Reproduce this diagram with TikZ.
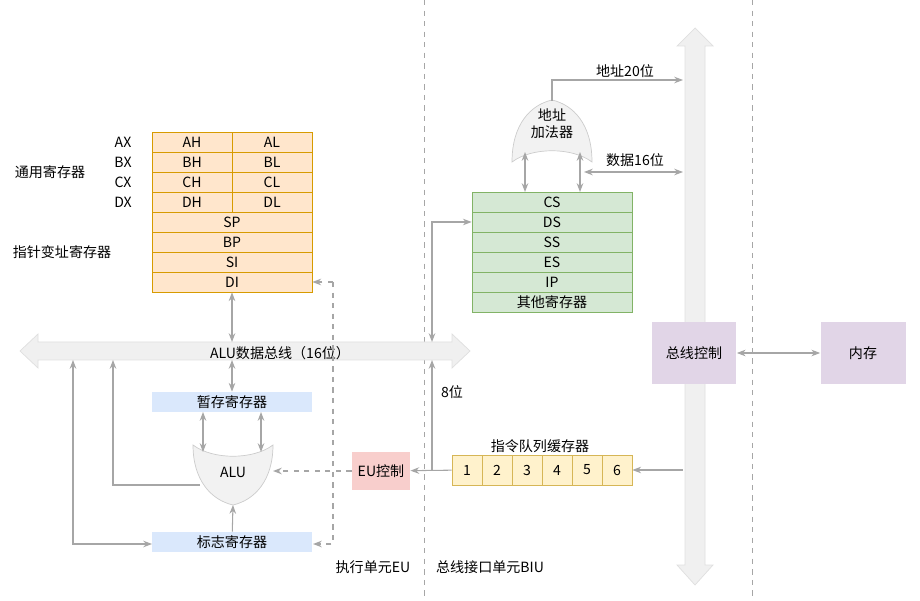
\documentclass[tikz,border=0pt]{standalone}
\usepackage{fontspec}
\setmainfont{Noto Sans CJK SC}
\usetikzlibrary{arrows.meta}

\definecolor{regfill}{HTML}{FFE6CC}
\definecolor{regline}{HTML}{D79B00}
\definecolor{segfill}{HTML}{D5E8D4}
\definecolor{segline}{HTML}{82B366}
\definecolor{tmpfill}{HTML}{DAE8FC}
\definecolor{cellfill}{HTML}{FFF2CC}
\definecolor{cellline}{HTML}{D6B656}
\definecolor{eufill}{HTML}{F8CECC}
\definecolor{busfill}{HTML}{E1D5E7}

\begin{document}
\begin{tikzpicture}[
    x = 0.02cm, y = -0.02cm,
    font = \footnotesize,
    %
    reg/.style = {draw = regline, fill = regfill,
      minimum height = 0.4cm, inner sep = 0pt},
    seg/.style = {draw = segline, fill = segfill,
      minimum width = 3.2cm, minimum height = 0.4cm, inner sep = 0pt},
    tmp/.style = {fill = tmpfill,
      minimum width = 3.22cm, minimum height = 0.4cm, inner sep = 0pt},
    cell/.style = {draw = cellline, fill = cellfill,
      minimum width = 0.6cm, minimum height = 0.6cm, inner sep = 0pt},
    box/.style = {minimum width = 1.7cm, minimum height = 1.26cm},
    wire/.style = {draw = gray!70, line width = 0.6pt},
    arr/.style = {wire, -{Stealth[length = 5pt]}},
    both/.style = {wire, {Stealth[length = 5pt]}-{Stealth[length = 5pt]}},
    ctrlarr/.style = {arr, dashed, line width = 0.8pt},
    bigbus/.style = {fill = gray!12, draw = gray!25},
    ]

    \useasboundingbox (0, 0) rectangle (920, 601);

    % dividers
    \draw [gray!70, dashed] (424, 0) -- (424, 601);
    \draw [gray!70, dashed] (752, 0) -- (752, 601);

    % buses
    \draw [bigbus] (20, 351) -- (38, 334) -- (38, 342) -- (452, 342)
    -- (452, 334) -- (470, 351) -- (452, 368) -- (452, 360)
    -- (38, 360) -- (38, 368) -- cycle;
    \node at (280, 353) (alubus) {ALU数据总线（16位）};

    \draw [bigbus] (695, 28) -- (713, 46) -- (705, 46) -- (705, 565)
    -- (713, 565) -- (695, 585) -- (677, 565) -- (685, 565)
    -- (685, 46) -- (677, 46) -- cycle;

    % general registers
    \foreach \h/\l/\x [count = \i] in {AH/AL/AX, BH/BL/BX, CH/CL/CX, DH/DL/DX} {
      \node at (192, 122 + 20 * \i) [reg, minimum width = 1.6cm] (\h) {\h};
      \node at (272, 122 + 20 * \i) [reg, minimum width = 1.6cm] (\l) {\l};
      \node at (123, 122 + 20 * \i) (\x) {\x};
    }
    \foreach \r [count = \i] in {SP, BP, SI, DI}
      \node at (232, 202 + 20 * \i) [reg, minimum width = 3.2cm] (\r) {\r};

    \node at (50, 172) (gen) {通用寄存器};
    \node at (62, 252) (ptr) {指针变址寄存器};

    % execution unit
    \node at (232, 402) [tmp] (tmp) {暂存寄存器};
    \node at (232, 542) [tmp] (flags) {标志寄存器};

    \draw [fill = gray!10, draw = gray!40]
    (193, 445) .. controls (213, 460) and (253, 460) .. (273, 445)
    .. controls (273, 480) and (255, 500) .. (233, 505)
    .. controls (211, 500) and (193, 480) .. (193, 445) -- cycle;
    \node at (233, 472) (alu) {ALU};

    \node at (381, 471) [fill = eufill, minimum width = 1.16cm,
      minimum height = 0.76cm] (eu) {EU控制};

    \coordinate (busL) at (232, 342);
    \coordinate (busLb) at (232, 360);
    \draw [both] (DI) -- (busL);
    \draw [both] (busLb) -- (tmp);
    \draw [both] (203, 412) -- (203, 452);
    \draw [both] (261, 412) -- (261, 452);
    \draw [arr] (flags) -- (233, 505);
    \draw [arr] (200, 485) -- (113, 485) -- (113, 360);
    \draw [both] (73, 360) -- (73, 544) -- (152, 544);
    \draw [ctrlarr] (333, 282) -- (DI.east);
    \draw [ctrlarr] (333, 282) -- (333, 544) -- (313, 544);
    \draw [ctrlarr] (eu) -- (273, 471);

    % bus interface unit
    \foreach \s [count = \i] in {CS, DS, SS, ES, IP, 其他寄存器}
      \node at (552, 182 + 20 * \i) [seg] (seg\i) {\s};

    \draw [fill = gray!10, draw = gray!40]
    (512, 162) .. controls (532, 147) and (572, 147) .. (592, 162)
    .. controls (592, 125) and (574, 105) .. (552, 100)
    .. controls (530, 105) and (512, 125) .. (512, 162) -- cycle;
    \node at (552, 124) [align = center] (adder) {地址\\加法器};

    \draw [both] (525, 152) -- (525, 192);
    \draw [both] (580, 152) -- (580, 192);
    \draw [arr] (552, 101) -- (552, 80) -- (683, 80);
    \node at (625, 71) (addr) {地址20位};
    \draw [both] (584, 172) -- (683, 172);
    \node at (635, 160) (data) {数据16位};

    \foreach \n in {1, ..., 6}
      \node at (437 + 30 * \n, 470) [cell] (q\n) {\n};
    \node at (540, 446) (queue) {指令队列缓存器};

    \draw [arr] (683, 470) -- (q6);
    \draw [arr] (q1) -- (eu);
    \draw [arr] (432, 470) -- (432, 360);
    \draw [both] (432, 342) -- (432, 222) -- (seg2);
    \node at (452, 392) (eight) {8位};

    \node at (694, 353) [box, fill = busfill] (ctrl) {总线控制};
    \node at (863, 353) [box, fill = busfill] (mem) {内存};
    \draw [both] (ctrl) -- (mem);

    \node at (373, 567) (eulabel) {执行单元EU};
    \node at (490, 567) (biulabel) {总线接口单元BIU};

\end{tikzpicture}
\end{document}
